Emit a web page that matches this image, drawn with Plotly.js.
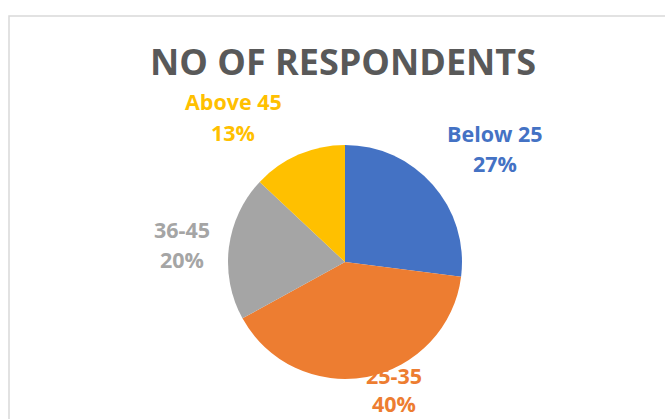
<!DOCTYPE html>
<html>
<head>
<meta charset="utf-8">
<script src="https://cdn.plot.ly/plotly-3.0.1.min.js"></script>
<style>html,body{margin:0;padding:0;background:#fff;}#chart{width:665px;height:419px;}</style>
</head>
<body>
<div id="chart"></div>
<script>
// Data
const categories = ["Below 25", "25-35", "36-45", "Above 45"];
const shares = [27, 40, 20, 13];
const colors = ["#4472C4", "#ED7D31", "#A5A5A5", "#FFC000"];
const chartTitle = "NO OF RESPONDENTS";

// Layout constants (label centres in pixels)
const W = 665, H = 419;
const labelPos = [[495, 133], [394, 375], [182, 229], [233, 102]];
const lineGap = 30;

const total = shares.reduce((a, b) => a + b, 0);
const annotations = [];
categories.forEach((c, i) => {
  const pct = Math.round(shares[i] / total * 100) + "%";
  [c, pct].forEach((t, k) => {
    annotations.push({
      text: t, showarrow: false, xref: "paper", yref: "paper",
      x: labelPos[i][0] / W, y: 1 - (labelPos[i][1] + k * (i === 1 ? 28 : lineGap)) / H,
      xanchor: "center", yanchor: "middle",
      font: {family: "Open Sans", size: 21.5, weight: "bold", color: colors[i]}
    });
  });
});

const cx = 345, cy = 262, r = 117;
const trace = {
  type: "pie",
  labels: categories,
  values: shares,
  sort: false,
  direction: "clockwise",
  rotation: 0,
  textinfo: "none",
  hoverinfo: "label+percent",
  marker: {colors: colors, line: {width: 0}},
  domain: {x: [(cx - r) / W, (cx + r) / W], y: [(H - cy - r) / H, (H - cy + r) / H]},
  showlegend: false
};

const layout = {
  width: W, height: H,
  margin: {l: 0, r: 0, t: 0, b: 0},
  paper_bgcolor: "#fff",
  title: {
    text: chartTitle, x: 343 / W, xanchor: "center", xref: "paper",
    y: 1 - 62 / H, yanchor: "middle", yref: "container",
    font: {family: "Open Sans", size: 36, weight: "bold", color: "#595959"}
  },
  annotations: annotations,
  shapes: [{
    type: "rect", xref: "paper", yref: "paper",
    x0: 9 / W, x1: 1.2, y0: -0.2, y1: 1 - 16 / H,
    line: {color: "#d9d9d9", width: 1.5}
  }]
};

Plotly.newPlot("chart", [trace], layout, {displayModeBar: false, staticPlot: true});
</script>
</body>
</html>
